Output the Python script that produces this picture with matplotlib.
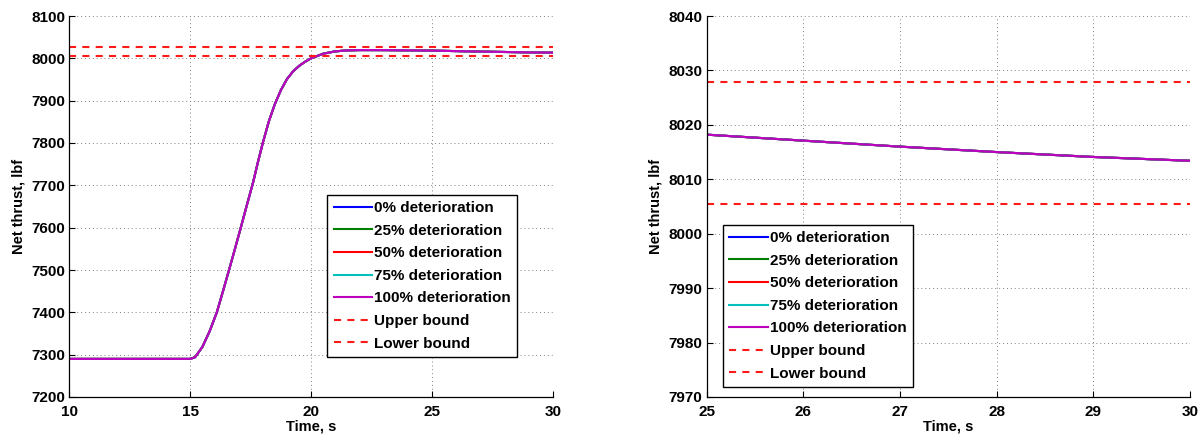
import matplotlib
matplotlib.use("Agg")
import matplotlib.pyplot as plt

plt.rcParams['font.family'] = ['Liberation Sans', 'DejaVu Sans']
plt.rcParams['font.weight'] = 'bold'

# Data (all five deterioration levels overlap)
time_s = [10, 15.0, 15.2, 15.5, 15.8, 16.1, 16.35, 16.6, 16.85, 17.1, 17.35, 17.6,
          17.8, 18.0, 18.25, 18.5, 18.75, 19.0, 19.25, 19.5, 19.75, 20.0, 20.5,
          21.0, 21.5, 22, 23, 24, 25, 26, 27, 28, 29, 30]
thrust = [7290, 7290, 7294, 7318, 7355, 7400, 7449, 7499, 7550, 7602, 7655, 7707,
          7755, 7800, 7851, 7892, 7925, 7951, 7969, 7982, 7992, 8000, 8011,
          8016.5, 8018.8, 8019.5, 8019.4, 8018.9, 8018.2, 8017.1, 8016.0, 8015.0,
          8014.1, 8013.4]
series_labels = ['0% deterioration', '25% deterioration', '50% deterioration',
                 '75% deterioration', '100% deterioration']
series_colors = ['#0000ff', '#008000', '#ff0000', '#00bfbf', '#bf00bf']
upper_bound = 8027.8
lower_bound = 8005.5

left_xlim, left_ylim = (10, 30), (7200, 8100)
left_xticks = [10, 15, 20, 25, 30]
left_yticks = list(range(7200, 8101, 100))
right_xlim, right_ylim = (25, 30), (7970, 8040)
right_xticks = [25, 26, 27, 28, 29, 30]
right_yticks = list(range(7970, 8041, 10))

W, H = 1202, 434
fig = plt.figure(figsize=(W / 100, H / 100), dpi=100)

ax1 = fig.add_axes([69.3 / W, 1 - 397 / H, (553 - 69.3) / W, (397 - 16) / H])
ax2 = fig.add_axes([706.7 / W, 1 - 397 / H, (1190 - 706.7) / W, (397 - 16) / H])


def draw(ax, xlim, ylim, xticks, yticks, legend_bbox):
    for lab, col in zip(series_labels, series_colors):
        ax.plot(time_s, thrust, color=col, lw=1.5, label=lab)
    ax.plot(list(xlim), [upper_bound, upper_bound], color='#ff1a1a', lw=1.5,
            ls=(0, (3.4, 3.0)), label='Upper bound')
    ax.plot(list(xlim), [lower_bound, lower_bound], color='#ff1a1a', lw=1.5,
            ls=(0, (3.4, 3.0)), label='Lower bound')
    ax.set_xlim(*xlim)
    ax.set_ylim(*ylim)
    ax.set_xticks(xticks)
    ax.set_yticks(yticks)
    ax.grid(True, ls=(0, (1, 3)), color='#808080', lw=0.7)
    ax.spines['top'].set_visible(False)
    ax.spines['right'].set_visible(False)
    ax.spines['left'].set_linewidth(0.9)
    ax.spines['bottom'].set_linewidth(0.9)
    ax.tick_params(axis='both', which='major', direction='in', length=4,
                   width=0.8, labelsize=11)
    ax.tick_params(axis='x', pad=6)
    ax.tick_params(axis='y', pad=3)
    for t in ax.get_xticklabels() + ax.get_yticklabels():
        t.set_fontweight('bold')
    ax.set_xlabel('Time, s', fontsize=10.5, fontweight='bold', labelpad=0)
    ax.set_ylabel('Net thrust, lbf', fontsize=10.5, fontweight='bold', labelpad=4)
    leg = ax.legend(loc='lower left', bbox_to_anchor=legend_bbox,
                    bbox_transform=fig.transFigure, fontsize=11,
                    frameon=True, fancybox=False, edgecolor='black',
                    framealpha=1, handlelength=2.5, handletextpad=0.15,
                    labelspacing=0.56, borderpad=0.42, borderaxespad=0)
    leg.get_frame().set_linewidth(1.0)
    for txt in leg.get_texts():
        txt.set_fontweight('bold')


draw(ax1, left_xlim, left_ylim, left_xticks, left_yticks,
     (327.4 / W, 1 - 357 / H))
draw(ax2, right_xlim, right_ylim, right_xticks, right_yticks,
     (723 / W, 1 - 387 / H))

fig.savefig('out.png', dpi=100)
